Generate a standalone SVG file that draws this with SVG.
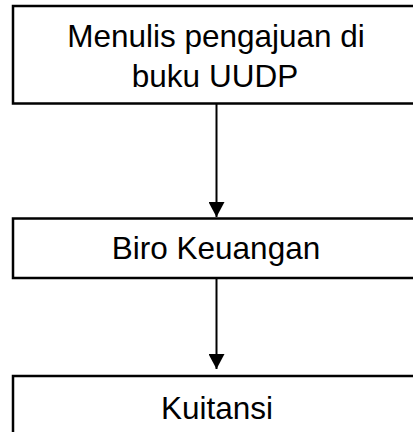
<svg xmlns="http://www.w3.org/2000/svg" width="413" height="432" viewBox="0 0 413 432">
<style>
.box{fill:#fff;stroke:#000;stroke-width:2.5}
.lbl{font-family:"Liberation Sans",Arial,sans-serif;font-size:31.5px;fill:#000;text-anchor:middle}
.conn{stroke:#000;stroke-width:2;fill:none}
</style>
<defs>
<marker id="ah" markerUnits="userSpaceOnUse" markerWidth="16" markerHeight="16" refX="15" refY="8" orient="auto" viewBox="0 0 16 16">
<path d="M0,0 L15,8 L0,16 Z" fill="#000"/>
</marker>
</defs>
<rect width="413" height="432" fill="#fff"/>
<g id="connectors">
<line class="conn" x1="216.5" y1="104" x2="216.5" y2="217" marker-end="url(#ah)"/>
<line class="conn" x1="216.5" y1="279" x2="216.5" y2="369" marker-end="url(#ah)"/>
</g>
<g id="node1">
<rect class="box" x="13" y="6" width="410" height="97.5"/>
<text class="lbl" x="216" y="47">Menulis pengajuan di</text>
<text class="lbl" x="215" y="87">buku UUDP</text>
</g>
<g id="node2">
<rect class="box" x="13" y="218.5" width="410" height="59.5"/>
<text class="lbl" x="216" y="259">Biro Keuangan</text>
</g>
<g id="node3">
<rect class="box" x="13" y="376" width="410" height="70"/>
<text class="lbl" x="217" y="419">Kuitansi</text>
</g>
</svg>
